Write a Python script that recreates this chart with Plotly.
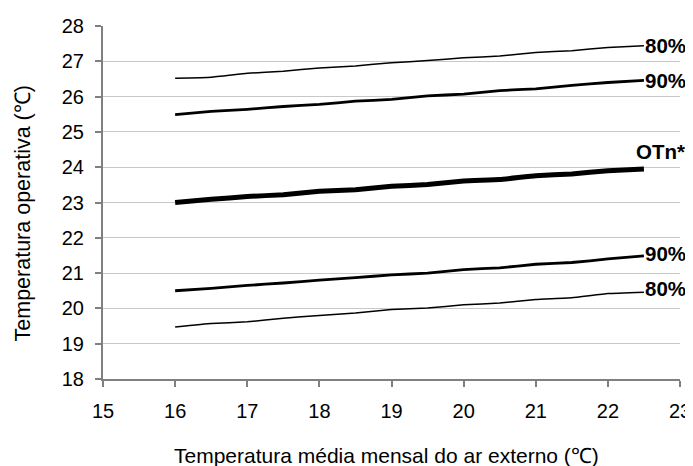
import plotly.graph_objects as go

x_vals = [16, 16.5, 17, 17.5, 18, 18.5, 19, 19.5, 20, 20.5, 21, 21.5, 22, 22.5]
upper_80 = [26.52, 26.55, 26.66, 26.72, 26.81, 26.87, 26.96, 27.02, 27.1, 27.15, 27.25, 27.3, 27.39, 27.44]
upper_90 = [25.49, 25.58, 25.64, 25.72, 25.78, 25.87, 25.92, 26.02, 26.07, 26.17, 26.22, 26.32, 26.4, 26.46]
otn = [23.0, 23.09, 23.17, 23.22, 23.32, 23.36, 23.46, 23.51, 23.61, 23.65, 23.76, 23.81, 23.9, 23.95]
lower_90 = [20.5, 20.57, 20.65, 20.72, 20.8, 20.87, 20.95, 21.0, 21.1, 21.15, 21.25, 21.3, 21.4, 21.49]
lower_80 = [19.47, 19.57, 19.62, 19.72, 19.8, 19.87, 19.97, 20.01, 20.1, 20.15, 20.25, 20.3, 20.42, 20.46]

x_title = "Temperatura média mensal do ar externo (℃)"
y_title = "Temperatura operativa (℃)"

series = [
    ("80%", upper_80, 1.5, 0),
    ("90%", upper_90, 2.8, 0),
    ("OTn*", otn, 5, 17),
    ("90%", lower_90, 2.8, 2),
    ("80%", lower_80, 1.5, 4),
]

fig = go.Figure()
for name, ys, w, ysh in series:
    fig.add_trace(go.Scatter(x=x_vals, y=ys, mode="lines",
                             line=dict(color="black", width=w, shape="spline", smoothing=0.3),
                             showlegend=False, hoverinfo="skip"))
    if name == "OTn*":
        fig.add_annotation(x=x_vals[-1], y=ys[-1], text="<b>" + name + "</b>",
                           showarrow=False, xanchor="center", yanchor="middle",
                           xshift=17, yshift=ysh,
                           font=dict(family="Liberation Sans", size=20.5, color="black"))
    else:
        fig.add_annotation(x=x_vals[-1], y=ys[-1], text="<b>" + name + "</b>",
                           showarrow=False, xanchor="left", yanchor="middle",
                           xshift=-1, yshift=ysh,
                           font=dict(family="Liberation Sans", size=20.5, color="black"))

# axis titles as annotations (paper coordinates)
fig.add_annotation(xref="paper", yref="paper", x=0.492, y=-0.218, text=x_title,
                   showarrow=False, xanchor="center", yanchor="middle",
                   font=dict(family="Liberation Sans", size=21, color="black"))
fig.add_annotation(xref="paper", yref="paper", x=-0.138, y=0.47, text=y_title,
                   textangle=-90, showarrow=False, xanchor="center", yanchor="middle",
                   font=dict(family="Liberation Sans", size=21.5, color="black"))

# the page body has an 8px margin; margins are offset to compensate
fig.update_layout(
    width=693, height=466,
    margin=dict(l=95, r=21, t=18, b=95),
    paper_bgcolor="white", plot_bgcolor="white",
    font=dict(family="Liberation Sans", size=20, color="black"),
    xaxis=dict(range=[15, 23], dtick=1, tick0=15, showgrid=False, zeroline=False,
               automargin=False,
               showline=True, linecolor="#808080", linewidth=2,
               ticks="outside", ticklen=6, tickcolor="#808080", tickwidth=1.5,
               tickfont=dict(size=20), ticklabelstandoff=7),
    yaxis=dict(range=[18, 28], dtick=1, tick0=18, showgrid=True, gridcolor="#c8c8c8",
               gridwidth=1, zeroline=False, automargin=False,
               showline=True, linecolor="#808080", linewidth=2,
               ticks="outside", ticklen=6, tickcolor="#808080", tickwidth=1.5,
               tickfont=dict(size=20), ticklabelstandoff=7),
)

fig.write_html("out.html")
